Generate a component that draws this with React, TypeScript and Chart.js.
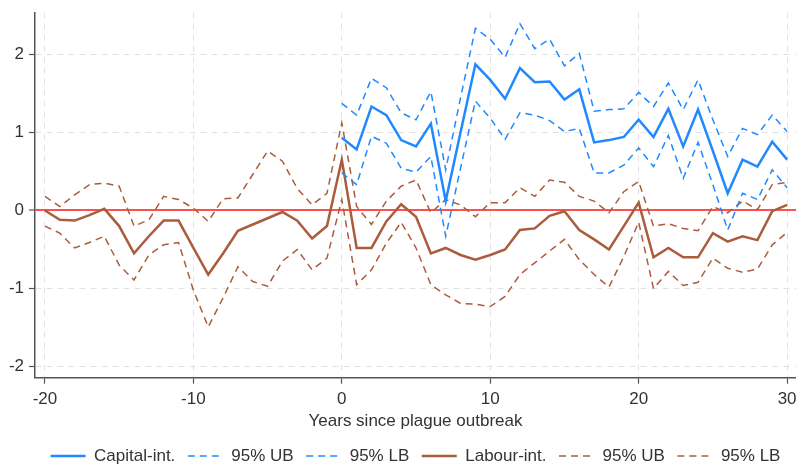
import React, { useEffect, useRef } from "react";
import { Chart, registerables } from "chart.js";

Chart.register(...registerables);

const labourYears = [
  -20, -19, -18, -17, -16, -15, -14, -13, -12, -11, -10, -9, -8, -7, -6, -5, -4, -3, -2, -1,
  0, 1, 2, 3, 4, 5, 6, 7, 8, 9, 10, 11, 12, 13, 14, 15, 16, 17, 18, 19, 20, 21, 22, 23, 24, 25,
  26, 27, 28, 29, 30,
];
const capitalYears = [
  0, 1, 2, 3, 4, 5, 6, 7, 8, 9, 10, 11, 12, 13, 14, 15, 16, 17, 18, 19, 20, 21, 22, 23, 24, 25,
  26, 27, 28, 29, 30,
];

const capitalEst = [
  0.93, 0.78, 1.33, 1.22, 0.9, 0.82, 1.11, 0.12, 1.0, 1.87, 1.67, 1.43, 1.82, 1.64, 1.65, 1.42,
  1.55, 0.87, 0.9, 0.94, 1.16, 0.94, 1.3, 0.82, 1.29, 0.76, 0.22, 0.65, 0.56, 0.88, 0.65,
];
const capitalUB = [
  1.37, 1.22, 1.69, 1.57, 1.25, 1.16, 1.52, 0.52, 1.44, 2.33, 2.19, 1.96, 2.39, 2.07, 2.19, 1.85,
  2.01, 1.27, 1.29, 1.3, 1.51, 1.33, 1.63, 1.29, 1.67, 1.16, 0.69, 1.05, 0.97, 1.22, 1.01,
];
const capitalLB = [
  0.48, 0.33, 0.95, 0.86, 0.54, 0.49, 0.69, -0.33, 0.54, 1.4, 1.18, 0.91, 1.25, 1.22, 1.15, 1.01,
  1.05, 0.48, 0.48, 0.58, 0.8, 0.56, 0.96, 0.41, 0.87, 0.33, -0.25, 0.22, 0.14, 0.52, 0.29,
];

const labourEst = [
  0, -0.12, -0.13, -0.06, 0.02, -0.2, -0.55, -0.33, -0.13, -0.13, -0.48, -0.82, -0.55, -0.26,
  -0.18, -0.1, -0.02, -0.13, -0.36, -0.2, 0.65, -0.48, -0.48, -0.14, 0.08, -0.08, -0.55, -0.48,
  -0.57, -0.63, -0.57, -0.5, -0.25, -0.23, -0.07, -0.01, -0.25, -0.37, -0.5, -0.2, 0.1, -0.6,
  -0.48, -0.6, -0.6, -0.29, -0.4, -0.33, -0.38, -0.01, 0.07,
];
const labourUB = [
  0.18, 0.05, 0.2, 0.33, 0.35, 0.31, -0.2, -0.12, 0.18, 0.14, 0.03, -0.14, 0.15, 0.16, 0.46,
  0.76, 0.63, 0.28, 0.07, 0.22, 1.12, 0.05, -0.18, 0.12, 0.31, 0.39, -0.03, 0.14, 0.07, -0.08,
  0.1, 0.1, 0.29, 0.18, 0.39, 0.36, 0.18, 0.12, -0.03, 0.24, 0.37, -0.2, -0.17, -0.23, -0.26,
  0.05, -0.03, 0.12, 0.01, 0.33, 0.36,
];
const labourLB = [
  -0.2, -0.29, -0.48, -0.41, -0.33, -0.7, -0.89, -0.57, -0.44, -0.41, -1.02, -1.49, -1.12, -0.72,
  -0.91, -0.97, -0.65, -0.5, -0.76, -0.61, 0.14, -0.95, -0.76, -0.42, -0.15, -0.48, -0.95, -1.08,
  -1.19, -1.2, -1.23, -1.1, -0.82, -0.67, -0.52, -0.37, -0.63, -0.82, -0.98, -0.59, -0.15, -1.0,
  -0.78, -0.96, -0.92, -0.61, -0.74, -0.79, -0.75, -0.44, -0.28,
];

const xTicks = [-20, -10, 0, 10, 20, 30];
const yTicks = [-2, -1, 0, 1, 2];

const BLUE = "#2089ff";
const BROWN = "#aa5c3c";
const RED = "#ff5050";
const FONT = "'Liberation Sans', Arial, sans-serif";
const TEXT = "#333333";
const FS = 17;

const pts = (xs: number[], ys: number[]) => xs.map((x, i) => ({ x, y: ys[i] }));

export default function App() {
  const ref = useRef<HTMLCanvasElement | null>(null);

  useEffect(() => {
    if (!ref.current) return;
    const solid = (label: string, xs: number[], ys: number[], color: string) => ({
      label,
      data: pts(xs, ys),
      borderColor: color,
      backgroundColor: color,
      borderWidth: 2.5,
      pointRadius: 0,
      tension: 0,
      fill: false,
    });
    const dashed = (label: string, xs: number[], ys: number[], color: string) => ({
      label,
      data: pts(xs, ys),
      borderColor: color,
      backgroundColor: color,
      borderWidth: 1.5,
      borderDash: [7, 5],
      pointRadius: 0,
      tension: 0,
      fill: false,
    });

    const chart = new Chart(ref.current, {
      type: "line",
      data: {
        datasets: [
          solid("Capital-int.", capitalYears, capitalEst, BLUE),
          dashed("95% UB", capitalYears, capitalUB, BLUE),
          dashed("95% LB", capitalYears, capitalLB, BLUE),
          solid("Labour-int.", labourYears, labourEst, BROWN),
          dashed("95% UB", labourYears, labourUB, BROWN),
          dashed("95% LB", labourYears, labourLB, BROWN),
        ] as any,
      },
      options: {
        animation: false,
        responsive: false,
        devicePixelRatio: 1,
        layout: { padding: { top: 12.7, right: 0, bottom: -9.5, left: 0 } },
        plugins: {
          tooltip: { enabled: false },
          legend: {
            position: "bottom",
            fullSize: false,
            labels: {
              usePointStyle: true,
              pointStyle: "line",
              pointStyleWidth: 35,
              padding: 12.5,
              color: TEXT,
              font: { family: FONT, size: FS },
              generateLabels: (c: any) =>
                c.data.datasets.map((ds: any, i: number) => ({
                  text: ds.label,
                  datasetIndex: i,
                  fillStyle: ds.borderColor,
                  strokeStyle: ds.borderColor,
                  lineWidth: ds.borderWidth,
                  lineDash: ds.borderDash || [],
                  lineCap: "butt",
                  pointStyle: "line",
                  fontColor: TEXT,
                  hidden: false,
                })),
            },
          },
        },
        scales: {
          x: {
            type: "linear",
            min: -20.67,
            max: 30.6,
            afterBuildTicks: (s: any) => {
              s.ticks = xTicks.map((v) => ({ value: v }));
            },
            afterFit: (s: any) => {
              s.height = 57.3;
              s.paddingLeft = 0;
              s.paddingRight = 0;
            },
            ticks: {
              color: TEXT,
              padding: 5.5,
              font: { family: FONT, size: FS },
              maxRotation: 0,
              callback: (v: any) => String(v),
            },
            grid: {
              color: "#e2e2e2",
              lineWidth: 1,
              tickLength: 6,
              tickColor: "#555555",
              tickWidth: 1.2,
            },
            border: { display: true, color: "#555555", width: 1.5, dash: [6, 5] },
            title: {
              display: true,
              text: "Years since plague outbreak",
              color: TEXT,
              font: { family: FONT, size: FS },
              padding: { top: 0, bottom: 3.1 },
            },
          },
          y: {
            type: "linear",
            min: -2.14,
            max: 2.53,
            afterBuildTicks: (s: any) => {
              s.ticks = yTicks.map((v) => ({ value: v }));
            },
            afterFit: (s: any) => {
              s.width = 35;
              s.paddingTop = 0;
              s.paddingBottom = 0;
            },
            ticks: {
              color: TEXT,
              padding: 5,
              font: { family: FONT, size: FS },
              callback: (v: any) => String(v),
            },
            grid: {
              color: (ctx: any) => (ctx.tick && ctx.tick.value === 0 ? RED : "#e2e2e2"),
              lineWidth: (ctx: any) => (ctx.tick && ctx.tick.value === 0 ? 2 : 1),
              tickLength: 6,
              tickColor: "#555555",
              tickWidth: 1.2,
            },
            border: {
              display: true,
              color: "#555555",
              width: 1.5,
              dash: (ctx: any) => (ctx.tick && ctx.tick.value === 0 ? [] : [6, 5]),
            },
          },
        },
      } as any,
    });
    return () => chart.destroy();
  }, []);

  return (
    <div style={{ position: "absolute", left: 0, top: 0, width: 796, height: 465, background: "#fff" }}>
      <canvas ref={ref} width={796} height={465} style={{ display: "block" }} />
    </div>
  );
}
